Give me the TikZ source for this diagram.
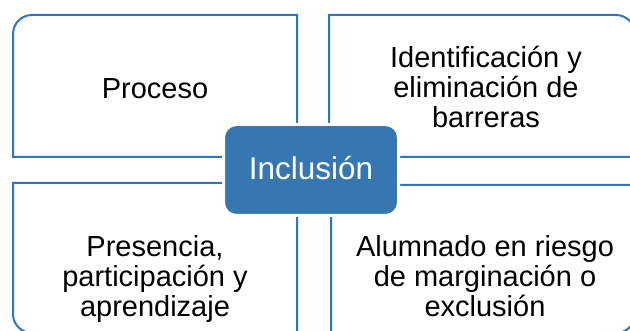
\documentclass[tikz,border=0pt]{standalone}
\usepackage{fontspec}
\setmainfont{Liberation Sans}
\definecolor{frameblue}{RGB}{46,117,198}
\definecolor{hubblue}{RGB}{54,119,178}
\begin{document}
\begin{tikzpicture}[x=1pt, y=1pt, every node/.append style={text=black, font=\fontsize{29}{30}\selectfont, align=center, anchor=base, inner sep=0pt},
	frame/.style={draw=frameblue, line width=2pt, fill=white},
	hub/.style={anchor=center, fill=hubblue, draw=white, line width=3pt, rounded corners=13pt, minimum width=175pt, minimum height=91pt, text=white, text depth=5pt, font=\fontsize{31.5}{33}\selectfont}]
\def\r{19pt}
	\useasboundingbox (0,0) rectangle (630,331);
	\clip (0,0) rectangle (630,331);
	% four quadrants, one rounded outer corner each (right and bottom ones run past the edge)
	\draw[frame] (297,174) -- (13,174) -- (13,297) arc[start angle=180, end angle=90, radius=\r] -- (297,316) -- cycle;
	\draw[frame] (329,174) -- (329,316) -- (616,316) arc[start angle=90, end angle=0, radius=\r] -- (635,174) -- cycle;
	\draw[frame] (297,148) -- (13,148) -- (13,17) arc[start angle=180, end angle=270, radius=\r] -- (297,-2) -- cycle;
	\draw[frame] (331,146) -- (635,146) -- (635,17) arc[start angle=0, end angle=-90, radius=\r] -- (331,-2) -- cycle;
	
	% texts (base = last line)
	\node (proceso) at (155,232) {Proceso};
	\node (barreras) at (486,203) {Identificación y\\eliminación de\\barreras};
	\node (presencia) at (155,14) {Presencia,\\participación y\\aprendizaje};
	\node (riesgo) at (485,14) {Alumnado en riesgo\\de marginación o\\exclusión};
	
	\node[hub] (inclusion) at (311,161) {Inclusión};
\end{tikzpicture}
\end{document}
